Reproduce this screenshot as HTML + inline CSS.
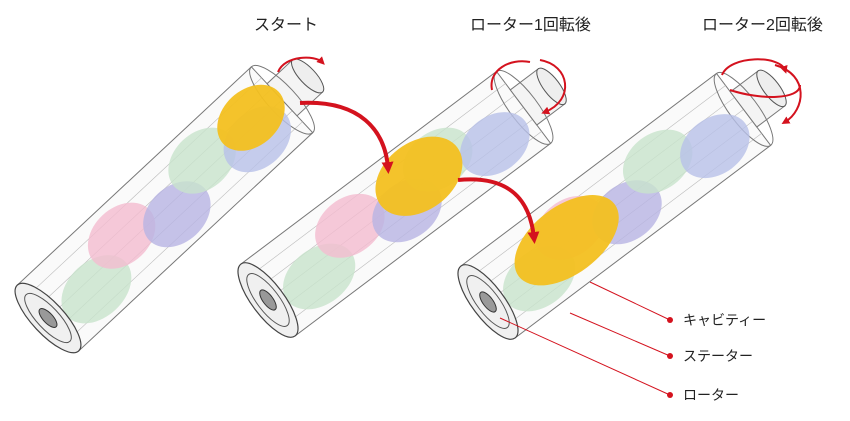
<!DOCTYPE html>
<html><head><meta charset="utf-8"><style>
body{margin:0;background:#fff;width:850px;height:421px;overflow:hidden}
svg{display:block}
text{font-family:"Liberation Sans","Noto Sans CJK JP",sans-serif;fill:#222}
</style></head><body>
<svg width="850" height="421" viewBox="0 0 850 421" xmlns="http://www.w3.org/2000/svg">
<defs>
<marker id="ah" markerWidth="8" markerHeight="8" refX="4" refY="4" orient="auto" markerUnits="userSpaceOnUse">
<path d="M0,0 L8,4 L0,8 z" fill="#d4121e"/></marker>
<marker id="ah2" markerWidth="12" markerHeight="12" refX="6" refY="6" orient="auto" markerUnits="userSpaceOnUse">
<path d="M0,0 L12,6 L0,12 z" fill="#d4121e"/></marker>
<g id="cyl">
  <rect x="0" y="-45" width="320" height="90" fill="#fafafa" stroke="#777" stroke-width="1"/>
  <g stroke="#bbb" stroke-width="0.6">
    <line x1="0" y1="-30" x2="320" y2="-30"/><line x1="0" y1="-15" x2="320" y2="-15"/>
    <line x1="0" y1="0" x2="320" y2="0"/><line x1="0" y1="15" x2="320" y2="15"/>
    <line x1="0" y1="30" x2="320" y2="30"/>
  </g>
  <rect x="320" y="-22" width="35" height="44" fill="#f4f4f4" stroke="#777"/>
  <ellipse cx="355" cy="0" rx="8" ry="22" fill="#eee" stroke="#555"/>
  <ellipse cx="320" cy="0" rx="14" ry="45" fill="none" stroke="#777"/>
</g>
<g id="rot">
  <ellipse cx="55" cy="12" rx="40" ry="28" fill="#c8e4cc" opacity="0.8"/>
  <ellipse cx="110" cy="-10" rx="38" ry="28" fill="#f4bcd0" opacity="0.8"/>
  <ellipse cx="165" cy="12" rx="38" ry="28" fill="#b8b4e4" opacity="0.8"/>
  <ellipse cx="220" cy="-10" rx="38" ry="28" fill="#c8e4cc" opacity="0.8"/>
  <ellipse cx="275" cy="12" rx="38" ry="28" fill="#b8c0e8" opacity="0.8"/>
</g>
<g id="end">
  <ellipse cx="0" cy="0" rx="16" ry="45" fill="#f0f0f0" stroke="#444" stroke-width="1.2"/>
  <ellipse cx="0" cy="0" rx="11" ry="32" fill="none" stroke="#555"/>
  <ellipse cx="0" cy="0" rx="5" ry="12" fill="#999" stroke="#333"/>
</g>
</defs>

<g transform="translate(48,318) rotate(-43)">
  <use href="#cyl"/><use href="#rot"/>
  <ellipse cx="285" cy="-8" rx="38" ry="28" fill="#f3c020" opacity="0.95"/>
  <use href="#end"/>
</g>
<g transform="translate(268,300) rotate(-37)">
  <use href="#cyl"/><use href="#rot"/>
  <ellipse cx="195" cy="-8" rx="48" ry="34" fill="#f3c020" opacity="0.95"/>
  <use href="#end"/>
</g>
<g transform="translate(488,302) rotate(-37)">
  <use href="#cyl"/><use href="#rot"/>
  <ellipse cx="100" cy="-2" rx="60" ry="34" fill="#f3c020" opacity="0.95"/>
  <use href="#end"/>
</g>

<path d="M300,103 C360,100 385,130 388,168" fill="none" stroke="#d4121e" stroke-width="4" marker-end="url(#ah2)"/>
<path d="M458,180 C510,175 530,200 534,238" fill="none" stroke="#d4121e" stroke-width="4" marker-end="url(#ah2)"/>
<path d="M278,72 C285,55 315,55 322,62" fill="none" stroke="#d4121e" stroke-width="2" marker-end="url(#ah)"/>
<path d="M540,60 C570,65 575,100 545,112" fill="none" stroke="#d4121e" stroke-width="2" marker-end="url(#ah)"/>
<path d="M492,90 C488,70 510,58 530,62" fill="none" stroke="#d4121e" stroke-width="2"/>
<path d="M722,75 C730,55 780,55 785,70" fill="none" stroke="#d4121e" stroke-width="2" marker-end="url(#ah)"/>
<path d="M775,65 C810,75 805,110 785,122" fill="none" stroke="#d4121e" stroke-width="2" marker-end="url(#ah)"/>
<path d="M730,90 C760,100 800,100 800,85" fill="none" stroke="#d4121e" stroke-width="2"/>

<g stroke="#d4121e" stroke-width="1">
<line x1="590" y1="282" x2="670" y2="320"/>
<line x1="570" y1="313" x2="670" y2="356"/>
<line x1="500" y1="318" x2="670" y2="395"/>
</g>
<g fill="#d4121e"><circle cx="670" cy="320" r="3"/><circle cx="670" cy="356" r="3"/><circle cx="670" cy="395" r="3"/></g>

<text x="254" y="30" font-size="16">スタート</text>
<text x="470" y="30" font-size="16">ローター1回転後</text>
<text x="702" y="30" font-size="16">ローター2回転後</text>
<text x="683" y="325" font-size="14">キャビティー</text>
<text x="683" y="361" font-size="14">ステーター</text>
<text x="683" y="400" font-size="14">ローター</text>
</svg>
</body></html>
